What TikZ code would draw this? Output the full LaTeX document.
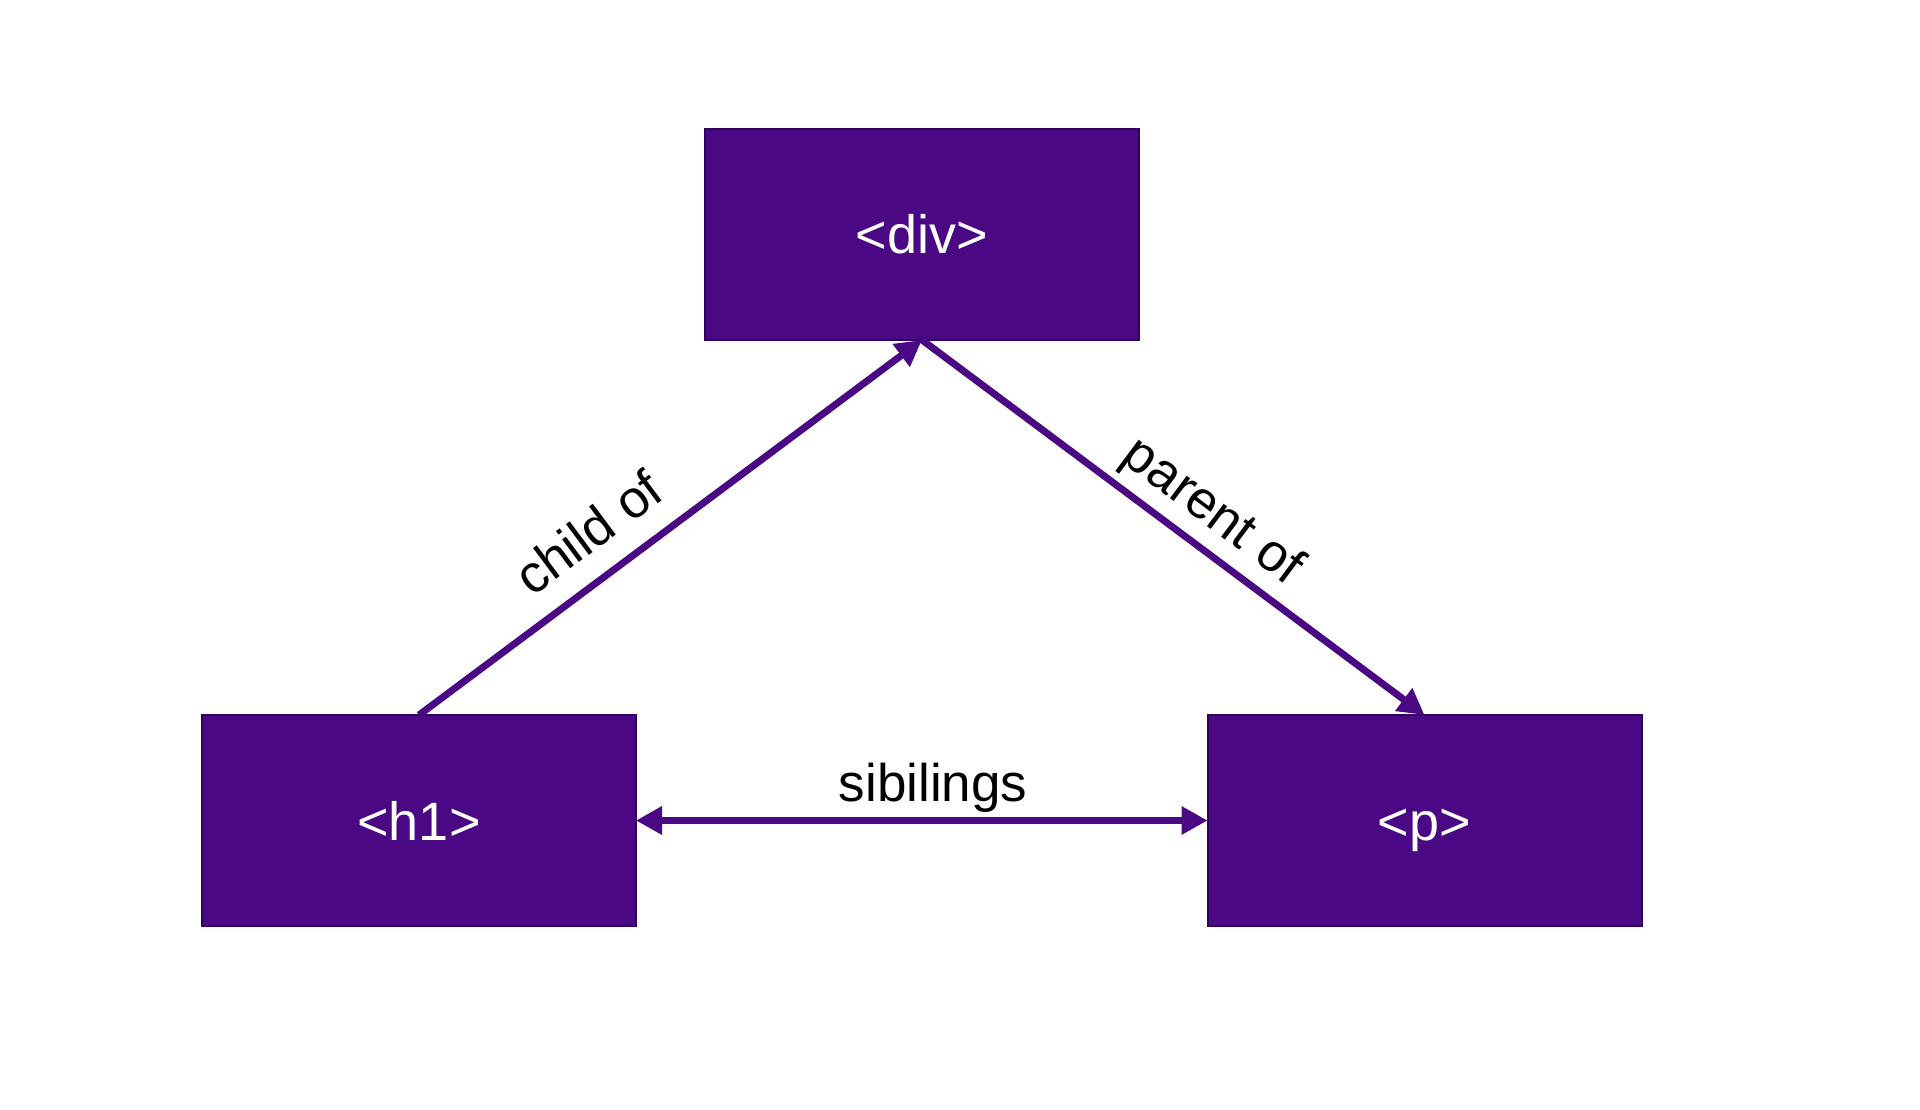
\documentclass[tikz,border=0pt]{standalone}
\usepackage{fontspec}
\setmainfont{Liberation Sans}
\usetikzlibrary{arrows.meta}
\definecolor{boxfill}{RGB}{74,8,133}
\definecolor{boxline}{RGB}{48,4,88}
\definecolor{arrowcol}{RGB}{74,8,133}
\begin{document}
\begin{tikzpicture}[x=1pt,y=-1pt,
  tagbox/.style={draw=boxline, line width=2pt, fill=boxfill, minimum width=434pt, minimum height=211pt,
    inner sep=0pt, outer sep=0pt, text=white, text height=39pt, text depth=0pt, font=\fontsize{54}{60}\selectfont},
  link/.style={draw=arrowcol, line width=7pt},
  tipstyle/.style={-{Triangle[length=26pt,width=27pt]}},
  lbl/.style={font=\fontsize{53}{60}\selectfont, text=black, text height=39pt, text depth=0pt, inner xsep=0pt}
]
\useasboundingbox (0,0) rectangle (1920,1110);
\node[tagbox] (div) at (922,234.5) {<div>};
\node[tagbox] (h1) at (419,820.5) {<h1>};
\node[tagbox] (p) at (1424.5,820.5) {<p>};
\draw[link, tipstyle] (h1.north) -- (div.south)
  node[lbl, sloped, pos=0.39, anchor=south, inner ysep=23pt] (lchild) {child of};
\draw[link, tipstyle] (div.south) -- (p.north)
  node[lbl, sloped, pos=0.535, anchor=south, inner ysep=18pt] (lparent) {parent of};
\draw[link, {Triangle[length=26pt,width=27pt]}-{Triangle[length=26pt,width=27pt]}] (h1.east) -- (p.west)
  node[lbl, pos=0.52, anchor=south, inner ysep=16pt] (lsib) {sibilings};
\end{tikzpicture}
\end{document}
